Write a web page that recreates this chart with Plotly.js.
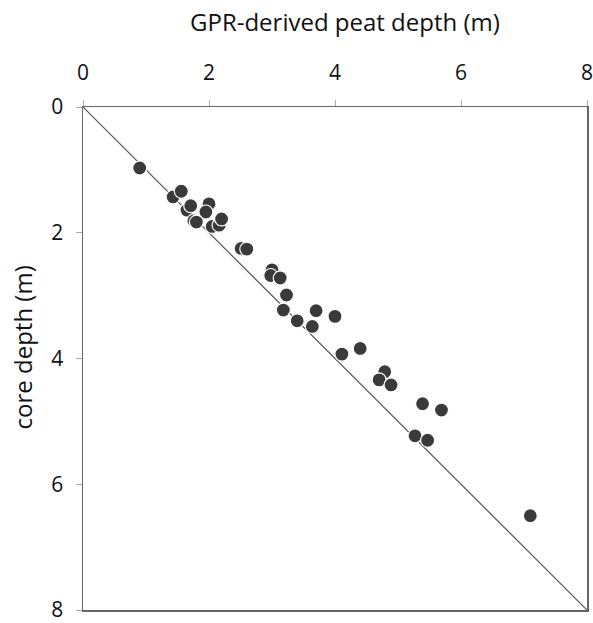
<!DOCTYPE html>
<html>
<head>
<meta charset="utf-8">
<script src="https://cdn.plot.ly/plotly-3.0.1.min.js"></script>
<style>html,body{margin:0;padding:0;background:#fff;}#chart{width:593px;height:623px;}</style>
</head>
<body>
<div id="chart"></div>
<script>
// GPR-derived peat depth (m)
const gprDepth = [0.90, 1.43, 1.56, 1.65, 1.71, 2.00, 1.95, 1.76, 1.80, 2.05, 2.16, 2.20, 2.51, 2.60,
  3.00, 2.98, 3.13, 3.23, 3.18, 3.40, 3.70, 3.64, 4.00, 4.11, 4.40, 4.79, 4.70, 4.89,
  5.39, 5.69, 5.27, 5.47, 7.10];
// core depth (m)
const coreDepth = [0.97, 1.43, 1.34, 1.64, 1.57, 1.54, 1.67, 1.81, 1.83, 1.90, 1.88, 1.78, 2.25, 2.26,
  2.59, 2.68, 2.72, 2.99, 3.23, 3.40, 3.24, 3.49, 3.33, 3.93, 3.84, 4.21, 4.34, 4.42,
  4.72, 4.82, 5.23, 5.30, 6.50];
const oneToOne = [0, 8];
const tickVals = [0, 2, 4, 6, 8];
const xTitle = 'GPR-derived peat depth (m)';
const yTitle = 'core depth (m)';

const font = "'Open Sans', 'Noto Sans', sans-serif";

const traces = [
  {x: oneToOne, y: oneToOne, mode: 'lines', line: {color: '#555', width: 1.2}, hoverinfo: 'skip', showlegend: false},
  {x: gprDepth, y: coreDepth, mode: 'markers', showlegend: false,
   marker: {size: 14, color: '#3a3a3a', line: {color: '#ffffff', width: 1.2}}}
];

const axisCommon = {
  range: [0, 8], tickvals: tickVals, ticktext: tickVals.map(String),
  showgrid: false, zeroline: false,
  showline: true, mirror: true, linecolor: '#666', linewidth: 1.5,
  ticks: 'outside', ticklen: 6, tickcolor: '#aaa', tickwidth: 1,
  tickfont: {size: 21, family: font, color: '#111'},
  ticklabeloverflow: 'allow'
};

const layout = {
  width: 593, height: 623,
  margin: {l: 83, r: 6, t: 107, b: 13},
  paper_bgcolor: '#fff', plot_bgcolor: '#fff',
  font: {family: font, color: '#111'},
  showlegend: false,
  xaxis: Object.assign({}, axisCommon, {side: 'top', ticklabelstandoff: 11}),
  yaxis: Object.assign({}, axisCommon, {range: [8, 0], ticklabelstandoff: 8}),
  annotations: [
    {text: xTitle, xref: 'paper', yref: 'paper', x: 0.52, y: 1.17, xanchor: 'center', yanchor: 'middle',
     showarrow: false, font: {size: 24, family: font, color: '#111'}},
    {text: yTitle, xref: 'paper', yref: 'paper', x: -0.12, y: 0.521, xanchor: 'center', yanchor: 'middle',
     textangle: -90, showarrow: false, font: {size: 24, family: font, color: '#111'}}
  ]
};

Plotly.newPlot('chart', traces, layout, {displayModeBar: false, staticPlot: true});
</script>
</body>
</html>
